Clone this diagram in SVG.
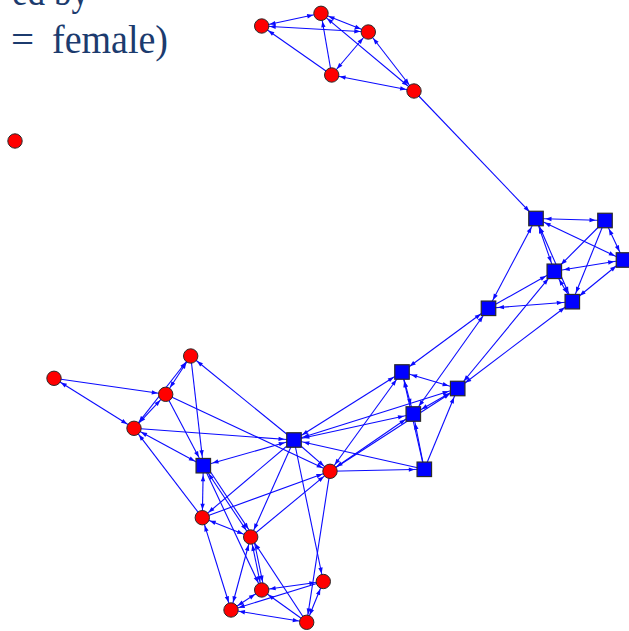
<svg xmlns="http://www.w3.org/2000/svg" width="629" height="631" viewBox="0 0 629 631">
<style>
#edges line{stroke:#0a0aff;stroke-width:1.1;fill:none}
.n circle{fill:#ff0000;stroke:#2a2a2a;stroke-width:1}
.n rect{fill:#0000ff;stroke:#2a2a2a;stroke-width:1.2}
</style>
<defs>
<marker id="c" markerUnits="userSpaceOnUse" orient="auto-start-reverse" refX="14" refY="0" markerWidth="20" markerHeight="10" overflow="visible"><path d="M0,-2.2 L6,0 L0,2.2 Z" fill="#0a0aff"/></marker>
<marker id="s" markerUnits="userSpaceOnUse" orient="auto-start-reverse" refX="15.5" refY="0" markerWidth="20" markerHeight="10" overflow="visible"><path d="M0,-2.2 L6,0 L0,2.2 Z" fill="#0a0aff"/></marker>
</defs>
<g font-family="'Liberation Serif','DejaVu Serif',serif" font-size="41" fill="#1c3b6e">
<text><tspan x="12" y="5" textLength="77" lengthAdjust="spacingAndGlyphs">ed by</tspan></text>
<text y="53"><tspan x="11">=</tspan><tspan x="52" textLength="116" lengthAdjust="spacingAndGlyphs">female)</tspan></text>
</g>
<g id="edges">
<line x1="261.7" y1="26" x2="321" y2="13.3" marker-start="url(#c)" marker-end="url(#c)"/>
<line x1="261.7" y1="26" x2="368.3" y2="32" marker-start="url(#c)" marker-end="url(#c)"/>
<line x1="331.7" y1="75" x2="261.7" y2="26" marker-end="url(#c)"/>
<line x1="331.7" y1="75" x2="321" y2="13.3" marker-end="url(#c)"/>
<line x1="321" y1="13.3" x2="368.3" y2="32" marker-start="url(#c)" marker-end="url(#c)"/>
<line x1="368.3" y1="32" x2="331.7" y2="75" marker-start="url(#c)" marker-end="url(#c)"/>
<line x1="414" y1="91" x2="321" y2="13.3" marker-start="url(#c)" marker-end="url(#c)"/>
<line x1="414" y1="91" x2="368.3" y2="32" marker-start="url(#c)" marker-end="url(#c)"/>
<line x1="331.7" y1="75" x2="414" y2="91" marker-start="url(#c)" marker-end="url(#c)"/>
<line x1="414" y1="91" x2="536" y2="218.5" marker-end="url(#s)"/>
<line x1="536" y1="218.5" x2="605" y2="220.5" marker-start="url(#s)" marker-end="url(#s)"/>
<line x1="536" y1="218.5" x2="623.5" y2="260" marker-start="url(#s)" marker-end="url(#s)"/>
<line x1="536" y1="218.5" x2="554.3" y2="271.3" marker-start="url(#s)" marker-end="url(#s)"/>
<line x1="536" y1="218.5" x2="572.3" y2="301.7" marker-start="url(#s)" marker-end="url(#s)"/>
<line x1="554.3" y1="271.3" x2="572.3" y2="301.7" marker-start="url(#s)" marker-end="url(#s)"/>
<line x1="605" y1="220.5" x2="554.3" y2="271.3" marker-end="url(#s)"/>
<line x1="605" y1="220.5" x2="572.3" y2="301.7" marker-end="url(#s)"/>
<line x1="605" y1="220.5" x2="623.5" y2="260" marker-start="url(#s)" marker-end="url(#s)"/>
<line x1="623.5" y1="260" x2="554.3" y2="271.3" marker-start="url(#s)" marker-end="url(#s)"/>
<line x1="623.5" y1="260" x2="572.3" y2="301.7" marker-start="url(#s)" marker-end="url(#s)"/>
<line x1="488.5" y1="308.3" x2="536" y2="218.5" marker-start="url(#s)" marker-end="url(#s)"/>
<line x1="488.5" y1="308.3" x2="554.3" y2="271.3" marker-end="url(#s)"/>
<line x1="488.5" y1="308.3" x2="572.3" y2="301.7" marker-start="url(#s)" marker-end="url(#s)"/>
<line x1="488.5" y1="308.3" x2="402" y2="372" marker-start="url(#s)" marker-end="url(#s)"/>
<line x1="488.5" y1="308.3" x2="413.3" y2="414" marker-start="url(#s)" marker-end="url(#s)"/>
<line x1="457.7" y1="388.5" x2="554.3" y2="271.3" marker-start="url(#s)" marker-end="url(#s)"/>
<line x1="457.7" y1="388.5" x2="572.3" y2="301.7" marker-start="url(#s)" marker-end="url(#s)"/>
<line x1="402" y1="372" x2="457.7" y2="388.5" marker-start="url(#s)" marker-end="url(#s)"/>
<line x1="402" y1="372" x2="413.3" y2="414" marker-start="url(#s)" marker-end="url(#s)"/>
<line x1="424.3" y1="469.3" x2="413.3" y2="414" marker-end="url(#s)"/>
<line x1="424.3" y1="469.3" x2="402" y2="372" marker-end="url(#s)"/>
<line x1="424.3" y1="469.3" x2="457.7" y2="388.5" marker-end="url(#s)"/>
<line x1="413.3" y1="414" x2="457.7" y2="388.5" marker-start="url(#s)" marker-end="url(#s)"/>
<line x1="294" y1="440" x2="402" y2="372" marker-start="url(#s)" marker-end="url(#s)"/>
<line x1="294" y1="440" x2="457.7" y2="388.5" marker-start="url(#s)" marker-end="url(#s)"/>
<line x1="294" y1="440" x2="413.3" y2="414" marker-start="url(#s)" marker-end="url(#s)"/>
<line x1="424.3" y1="469.3" x2="294" y2="440" marker-end="url(#s)"/>
<line x1="330" y1="471.3" x2="424.3" y2="469.3" marker-end="url(#s)"/>
<line x1="294" y1="440" x2="330" y2="471.3" marker-end="url(#c)"/>
<line x1="330" y1="471.3" x2="402" y2="372" marker-start="url(#c)" marker-end="url(#s)"/>
<line x1="330" y1="471.3" x2="413.3" y2="414" marker-start="url(#c)" marker-end="url(#s)"/>
<line x1="330" y1="471.3" x2="457.7" y2="388.5" marker-end="url(#s)"/>
<line x1="134" y1="428.3" x2="294" y2="440" marker-end="url(#s)"/>
<line x1="294" y1="440" x2="190.7" y2="356" marker-end="url(#c)"/>
<line x1="294" y1="440" x2="203.3" y2="465.7" marker-start="url(#s)" marker-end="url(#s)"/>
<line x1="294" y1="440" x2="202.3" y2="517.7" marker-end="url(#c)"/>
<line x1="294" y1="440" x2="250.7" y2="537" marker-end="url(#c)"/>
<line x1="294" y1="440" x2="323.3" y2="581.5" marker-end="url(#c)"/>
<line x1="165.7" y1="394.3" x2="330" y2="471.3" marker-end="url(#c)"/>
<line x1="202.3" y1="517.7" x2="330" y2="471.3" marker-end="url(#c)"/>
<line x1="250.7" y1="537" x2="330" y2="471.3" marker-end="url(#c)"/>
<line x1="330" y1="471.3" x2="306.7" y2="622.3" marker-end="url(#c)"/>
<line x1="54" y1="378.3" x2="165.7" y2="394.3" marker-end="url(#c)"/>
<line x1="54" y1="378.3" x2="134" y2="428.3" marker-start="url(#c)" marker-end="url(#c)"/>
<line x1="190.7" y1="356" x2="165.7" y2="394.3" marker-start="url(#c)" marker-end="url(#c)"/>
<line x1="165.7" y1="394.3" x2="134" y2="428.3" marker-start="url(#c)" marker-end="url(#c)"/>
<line x1="190.7" y1="356" x2="134" y2="428.3" marker-start="url(#c)" marker-end="url(#c)"/>
<line x1="190.7" y1="356" x2="203.3" y2="465.7" marker-end="url(#s)"/>
<line x1="165.7" y1="394.3" x2="203.3" y2="465.7" marker-end="url(#s)"/>
<line x1="134" y1="428.3" x2="203.3" y2="465.7" marker-start="url(#c)" marker-end="url(#s)"/>
<line x1="202.3" y1="517.7" x2="134" y2="428.3" marker-end="url(#c)"/>
<line x1="203.3" y1="465.7" x2="202.3" y2="517.7" marker-start="url(#s)" marker-end="url(#c)"/>
<line x1="203.3" y1="465.7" x2="250.7" y2="537" marker-start="url(#s)" marker-end="url(#c)"/>
<line x1="205.4" y1="464.3" x2="252.8" y2="535.6" marker-end="url(#c)"/>
<line x1="203.3" y1="465.7" x2="261.7" y2="590" marker-end="url(#c)"/>
<line x1="202.3" y1="517.7" x2="250.7" y2="537" marker-start="url(#c)" marker-end="url(#c)"/>
<line x1="202.3" y1="517.7" x2="231" y2="610" marker-start="url(#c)" marker-end="url(#c)"/>
<line x1="250.7" y1="537" x2="231" y2="610" marker-start="url(#c)" marker-end="url(#c)"/>
<line x1="250.7" y1="537" x2="261.7" y2="590" marker-start="url(#c)" marker-end="url(#c)"/>
<line x1="253.2" y1="536.5" x2="264.2" y2="589.5" marker-end="url(#c)"/>
<line x1="261.7" y1="590" x2="323.3" y2="581.5" marker-start="url(#c)" marker-end="url(#c)"/>
<line x1="261.7" y1="590" x2="231" y2="610" marker-start="url(#c)" marker-end="url(#c)"/>
<line x1="323.3" y1="581.5" x2="231" y2="610" marker-end="url(#c)"/>
<line x1="231" y1="610" x2="306.7" y2="622.3" marker-start="url(#c)" marker-end="url(#c)"/>
<line x1="306.7" y1="622.3" x2="261.7" y2="590" marker-end="url(#c)"/>
<line x1="323.3" y1="581.5" x2="306.7" y2="622.3" marker-start="url(#c)" marker-end="url(#c)"/>
<line x1="306.7" y1="622.3" x2="250.7" y2="537" marker-end="url(#c)"/>
</g>
<g class="n">
<g id="A1"><circle cx="261.7" cy="26" r="7.2"/></g>
<g id="A2"><circle cx="321" cy="13.3" r="7.2"/></g>
<g id="A3"><circle cx="368.3" cy="32" r="7.2"/></g>
<g id="A4"><circle cx="331.7" cy="75" r="7.2"/></g>
<g id="A5"><circle cx="414" cy="91" r="7.2"/></g>
<g id="I1"><circle cx="15" cy="141" r="7.2"/></g>
<g id="S1"><rect x="528.75" y="211.25" width="14.5" height="14.5"/></g>
<g id="S2"><rect x="597.75" y="213.25" width="14.5" height="14.5"/></g>
<g id="S3"><rect x="616.25" y="252.75" width="14.5" height="14.5"/></g>
<g id="S4"><rect x="547.05" y="264.05" width="14.5" height="14.5"/></g>
<g id="S5"><rect x="565.05" y="294.45" width="14.5" height="14.5"/></g>
<g id="S6"><rect x="481.25" y="301.05" width="14.5" height="14.5"/></g>
<g id="S7"><rect x="394.75" y="364.75" width="14.5" height="14.5"/></g>
<g id="S8"><rect x="450.45" y="381.25" width="14.5" height="14.5"/></g>
<g id="S9"><rect x="406.05" y="406.75" width="14.5" height="14.5"/></g>
<g id="S10"><rect x="286.75" y="432.75" width="14.5" height="14.5"/></g>
<g id="S11"><rect x="196.05" y="458.45" width="14.5" height="14.5"/></g>
<g id="S12"><rect x="417.05" y="462.05" width="14.5" height="14.5"/></g>
<g id="B1"><circle cx="190.7" cy="356" r="7.2"/></g>
<g id="B2"><circle cx="54" cy="378.3" r="7.2"/></g>
<g id="B3"><circle cx="165.7" cy="394.3" r="7.2"/></g>
<g id="B4"><circle cx="134" cy="428.3" r="7.2"/></g>
<g id="B5"><circle cx="330" cy="471.3" r="7.2"/></g>
<g id="B6"><circle cx="202.3" cy="517.7" r="7.2"/></g>
<g id="B7"><circle cx="250.7" cy="537" r="7.2"/></g>
<g id="B8"><circle cx="261.7" cy="590" r="7.2"/></g>
<g id="B9"><circle cx="323.3" cy="581.5" r="7.2"/></g>
<g id="B10"><circle cx="231" cy="610" r="7.2"/></g>
<g id="B11"><circle cx="306.7" cy="622.3" r="7.2"/></g>
</g>
</svg>
